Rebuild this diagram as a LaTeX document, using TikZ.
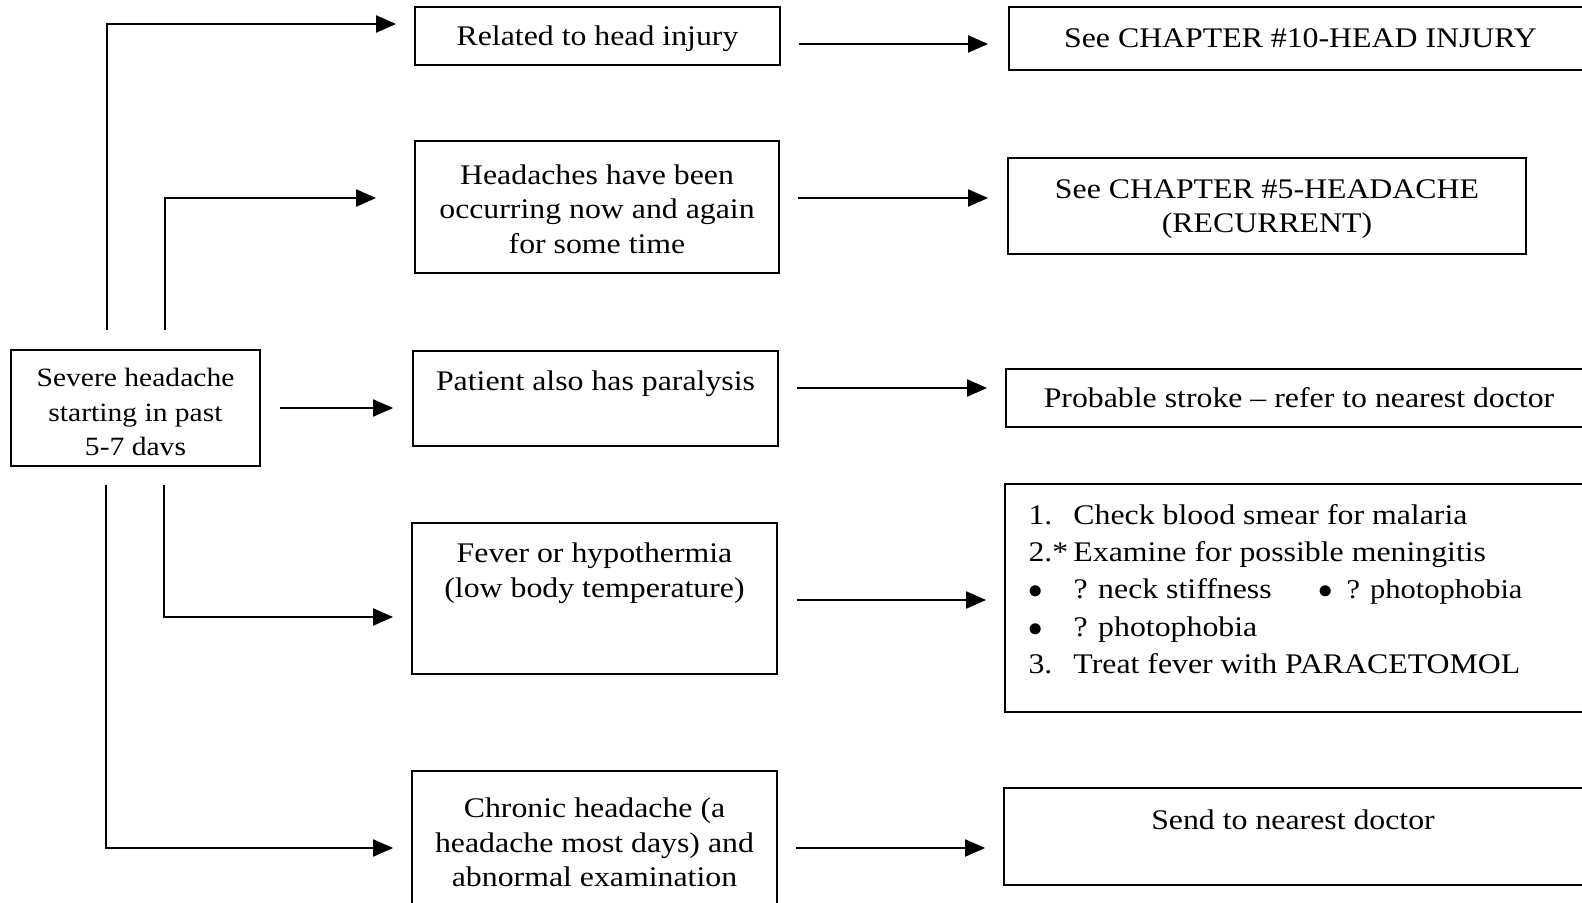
\documentclass[tikz,border=0pt]{standalone}
\usepackage{fontspec}
\setmainfont{Liberation Serif}[FakeStretch=1.12]
\usetikzlibrary{
  arrows.meta,
  positioning
}

\begin{document}
\begin{tikzpicture}[
  x=0.5pt, y=-0.5pt,
  font=\fontsize{14.2pt}{17.2pt}\selectfont,
  box/.style={
    rectangle, draw=black, line width=0.9pt,
    inner sep=2pt, align=center
  },
  txt/.style={inner sep=0pt, align=center},
  arrow/.style={-{Triangle[length=10pt, width=8.5pt]}, black, line width=1pt},
]
\clip (0,0) rectangle (1582,903);

% Starting box (left)
\node[box, minimum width=124.5pt, minimum height=58pt,
  font=\fontsize{13.2pt}{17.2pt}\selectfont] (src) at (135.5,408) {};
\node[txt, font=\fontsize{13.2pt}{17.2pt}\selectfont] (srct) at ([yshift=-2pt]src.center)
  {Severe headache\\ starting in past\\ 5-7 davs};

% Middle column
\node[box, minimum width=182.5pt, minimum height=29pt] (injury) at (597.5,36) {};
\node[txt] (injuryt) at ([yshift=-1.5pt]injury.center) {Related to head injury};
\node[box, minimum width=182pt, minimum height=66pt] (recur) at (597,207) {};
\node[txt] (recurt) at ([yshift=-1pt]recur.center)
  {Headaches have been\\ occurring now and again\\ for some time};
\node[box, minimum width=182.5pt, minimum height=47.5pt] (paral) at (595.5,398.5) {};
\node[txt] (paralt) at ([yshift=-17pt]paral.north) {Patient also has paralysis};
\node[box, minimum width=182.5pt, minimum height=75.5pt] (fever) at (594.5,598.5) {};
\node[txt] (fevert) at ([yshift=-25.5pt]fever.north)
  {Fever or hypothermia\\ (low body temperature)};
\node[box, minimum width=182.5pt, minimum height=69.5pt] (chron) at (594.5,840.5) {};
\node[txt] (chront) at ([yshift=-1pt]chron.center)
  {Chronic headache (a\\ headache most days) and\\ abnormal examination};

% Right column
\node[box, minimum width=291.5pt, minimum height=31.5pt] (ch10) at (1300.5,38.5)
  {See CHAPTER \#10-HEAD INJURY};
\node[box, minimum width=259pt, minimum height=48pt] (ch5) at (1267,206) {};
\node[txt] (ch5t) at ([yshift=-1.5pt]ch5.center) {See CHAPTER \#5-HEADACHE\\ (RECURRENT)};
\node[box, minimum width=293pt, minimum height=29pt] (stroke) at (1299,398)
  {Probable stroke -- refer to nearest doctor};
\node[box, minimum width=293.5pt, minimum height=114pt] (malar) at (1298.5,598) {};
\node[txt, align=left, anchor=west, font=\fontsize{14.2pt}{18.65pt}\selectfont]
  (malart) at ([xshift=12pt, yshift=-53pt]malar.north west)
  {\makebox[22.5pt][l]{1.}Check blood smear for malaria\\
   \makebox[22.5pt][l]{2.*}Examine for possible meningitis\\
   \makebox[22.5pt][l]{$\bullet$}\makebox[122.5pt][l]{? neck stiffness}%
     \makebox[14pt][l]{$\bullet$}{\fontsize{13.6pt}{18.65pt}\selectfont ? photophobia}\\
   \makebox[22.5pt][l]{$\bullet$}? photophobia\\
   \makebox[22.5pt][l]{3.}Treat fever with PARACETOMOL};
\node[box, minimum width=294pt, minimum height=48.5pt] (doctor) at (1298,836.5) {};
\node[txt] (doctort) at ([xshift=-2.5pt, yshift=-16.5pt]doctor.north) {Send to nearest doctor};

% Branches out of the starting box
\draw[arrow, shorten <=9.5pt, shorten >=9pt]
  ([xshift=-14.25pt]src.north) |- ([yshift=6pt]injury.west);
\draw[arrow, shorten <=9.5pt, shorten >=19pt]
  ([xshift=14.75pt]src.north) |- ([yshift=4.5pt]recur.west);
\draw[arrow, shorten <=9.5pt, shorten >=9.5pt]
  (src.east) -- (src.east -| paral.west);
\draw[arrow, shorten <=9pt, shorten >=9pt]
  ([xshift=14.25pt]src.south) |- ([yshift=-9.25pt]fever.west);
\draw[arrow, shorten <=9pt, shorten >=9pt]
  ([xshift=-14.75pt]src.south) |- ([yshift=-3.75pt]chron.west);

% Middle to right column
\draw[arrow, shorten <=9pt, shorten >=10pt]
  ([yshift=-4pt]injury.east) -- ([yshift=-4pt]injury.east -| ch10.west);
\draw[arrow, shorten <=9pt, shorten >=9.5pt]
  ([yshift=4.5pt]recur.east) -- ([yshift=4.5pt]recur.east -| ch5.west);
\draw[arrow, shorten <=9pt, shorten >=9pt]
  ([yshift=5.25pt]paral.east) -- ([yshift=5.25pt]paral.east -| stroke.west);
\draw[arrow, shorten <=9.5pt, shorten >=9pt]
  ([yshift=-0.75pt]fever.east) -- ([yshift=-0.75pt]fever.east -| malar.west);
\draw[arrow, shorten <=9pt, shorten >=9pt]
  ([yshift=-3.75pt]chron.east) -- ([yshift=-3.75pt]chron.east -| doctor.west);

\end{tikzpicture}
\end{document}
